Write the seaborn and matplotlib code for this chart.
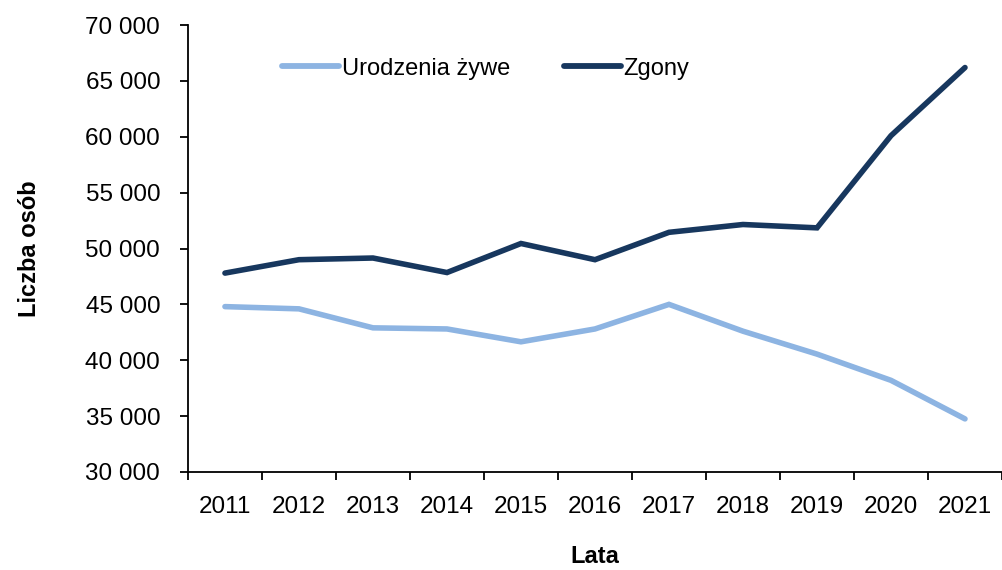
import numpy as np
import pandas as pd
import seaborn as sns
import matplotlib.pyplot as plt
from matplotlib.ticker import FuncFormatter

years = [2011, 2012, 2013, 2014, 2015, 2016, 2017, 2018, 2019, 2020, 2021]
births = [44800, 44600, 42900, 42800, 41650, 42800, 45000, 42600, 40550, 38200, 34750]
deaths = [47800, 49000, 49150, 47850, 50450, 49000, 51450, 52150, 51850, 60100, 66200]
series_names = ["Urodzenia żywe", "Zgony"]
colors = ["#8DB4E2", "#17375E"]

df = pd.DataFrame({
    "rok": years * 2,
    "liczba": births + deaths,
    "seria": [series_names[0]] * len(years) + [series_names[1]] * len(years),
})

sns.set_style("white")
plt.rcParams['font.family'] = ['Liberation Sans', 'DejaVu Sans']
plt.rcParams.update({"text.color": "black", "axes.labelcolor": "black",
                     "xtick.color": "black", "ytick.color": "black"})

fig, ax = plt.subplots(figsize=(10.03, 5.7), dpi=100)
fig.subplots_adjust(left=0.1874, right=0.999, top=0.956, bottom=0.172)

sns.lineplot(data=df, x="rok", y="liczba", hue="seria", palette=colors,
             linewidth=4.0, ax=ax, legend=True)
for line in ax.get_lines():
    line.set_solid_capstyle("round")
    line.set_solid_joinstyle("miter")

ax.set_ylim(30000, 70000)
ax.set_yticks(np.arange(30000, 70001, 5000))
ax.yaxis.set_major_formatter(FuncFormatter(lambda v, p: f"{int(v):,}".replace(",", " ")))

ax.set_xlim(years[0] - 0.5, years[-1] + 0.5)
ax.set_xticks([y - 0.5 for y in years] + [years[-1] + 0.5])
ax.set_xticklabels([])
ax.set_xticks(years, minor=True)
ax.set_xticklabels([str(y) for y in years], minor=True)
ax.tick_params(axis="x", which="major", direction="out", length=6, width=1.3, color="black")
ax.tick_params(axis="x", which="minor", length=0, pad=17, labelsize=17.5, labelcolor="black")
ax.tick_params(axis="y", direction="out", length=6, width=1.3, color="black",
               labelsize=17.5, pad=14, labelcolor="black")
ax.tick_params(left=True, bottom=True)

sns.despine(ax=ax)
for side in ["left", "bottom"]:
    ax.spines[side].set_linewidth(1.3)
    ax.spines[side].set_color("black")

ax.set_xlabel("Lata", fontsize=17, fontweight="bold", labelpad=20, color="black")
ax.set_ylabel("Liczba osób", fontsize=17, fontweight="bold", labelpad=32, color="black")

leg = ax.legend(loc="upper left", bbox_to_anchor=(0.09, 0.975), ncol=2, frameon=False,
                fontsize=17, handlelength=2.4, handletextpad=0.1, columnspacing=2.3)
for h in leg.get_lines():
    h.set_linewidth(4.2)
for t in leg.get_texts():
    t.set_color("black")

fig.savefig("out.png", dpi=100)
